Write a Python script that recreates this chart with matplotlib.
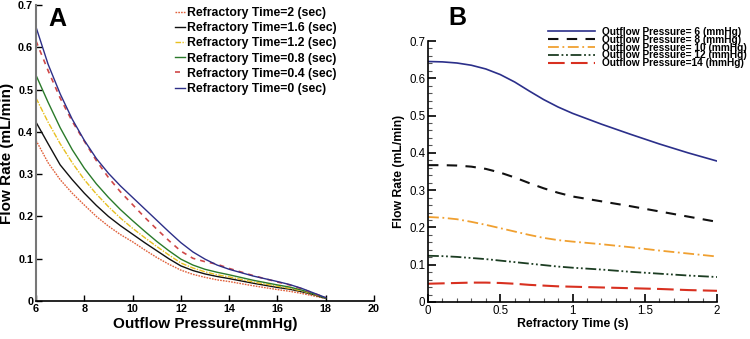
import matplotlib
matplotlib.use("Agg")
import matplotlib.pyplot as plt
from matplotlib.ticker import MultipleLocator

plt.rcParams['font.family'] = ['Liberation Sans', 'DejaVu Sans']

# ---------------- Panel A data ----------------
pressure = [6, 6.5, 7, 7.5, 8, 8.5, 9, 9.5, 10, 10.5, 11, 11.5, 12, 12.5, 13, 13.5, 14, 15, 16, 16.5, 17, 17.5, 18]
flow_t0  = [0.648, 0.560, 0.490, 0.430, 0.380, 0.337, 0.302, 0.272, 0.245, 0.218, 0.191, 0.164, 0.138, 0.116, 0.099, 0.085, 0.075, 0.059, 0.046, 0.039, 0.030, 0.019, 0.008]
flow_t04 = [0.615, 0.545, 0.480, 0.425, 0.378, 0.332, 0.292, 0.258, 0.228, 0.198, 0.170, 0.143, 0.118, 0.101, 0.093, 0.087, 0.077, 0.060, 0.045, 0.038, 0.029, 0.018, 0.008]
flow_t08 = [0.534, 0.470, 0.410, 0.358, 0.314, 0.277, 0.245, 0.216, 0.190, 0.165, 0.141, 0.119, 0.099, 0.085, 0.075, 0.068, 0.062, 0.049, 0.038, 0.033, 0.026, 0.017, 0.007]
flow_t12 = [0.480, 0.423, 0.372, 0.327, 0.287, 0.253, 0.223, 0.196, 0.172, 0.150, 0.129, 0.109, 0.090, 0.078, 0.069, 0.062, 0.057, 0.045, 0.035, 0.030, 0.024, 0.016, 0.007]
flow_t16 = [0.423, 0.372, 0.322, 0.287, 0.255, 0.226, 0.200, 0.178, 0.158, 0.138, 0.119, 0.100, 0.083, 0.072, 0.064, 0.058, 0.053, 0.042, 0.032, 0.028, 0.022, 0.015, 0.006]
flow_t2  = [0.380, 0.327, 0.287, 0.255, 0.227, 0.200, 0.177, 0.157, 0.140, 0.121, 0.103, 0.087, 0.073, 0.063, 0.056, 0.050, 0.046, 0.036, 0.027, 0.023, 0.018, 0.012, 0.006]
labels_a = ["Refractory Time=2 (sec)", "Refractory Time=1.6 (sec)", "Refractory Time=1.2 (sec)",
            "Refractory Time=0.8 (sec)", "Refractory Time=0.4 (sec)", "Refractory Time=0 (sec)"]
xticks_a = [6, 8, 10, 12, 14, 16, 18, 20]
yticks = [0, 0.1, 0.2, 0.3, 0.4, 0.5, 0.6, 0.7]
ytick_labels = ["0", "0.1", "0.2", "0.3", "0.4", "0.5", "0.6", "0.7"]

# ---------------- Panel B data ----------------
rtime    = [0, 0.1, 0.2, 0.3, 0.4, 0.5, 0.6, 0.7, 0.8, 0.9, 1.0, 1.2, 1.4, 1.6, 1.8, 2.0]
flow_p6  = [0.645, 0.644, 0.641, 0.635, 0.625, 0.610, 0.590, 0.566, 0.543, 0.523, 0.506, 0.477, 0.450, 0.424, 0.400, 0.378]
flow_p8  = [0.367, 0.367, 0.366, 0.363, 0.357, 0.347, 0.334, 0.319, 0.305, 0.293, 0.283, 0.270, 0.257, 0.243, 0.229, 0.215]
flow_p10 = [0.228, 0.226, 0.222, 0.215, 0.207, 0.198, 0.189, 0.180, 0.172, 0.166, 0.162, 0.155, 0.147, 0.138, 0.130, 0.122]
flow_p12 = [0.124, 0.123, 0.121, 0.118, 0.115, 0.111, 0.107, 0.103, 0.099, 0.095, 0.092, 0.087, 0.081, 0.076, 0.071, 0.067]
flow_p14 = [0.049, 0.050, 0.051, 0.052, 0.052, 0.051, 0.049, 0.046, 0.044, 0.042, 0.041, 0.039, 0.037, 0.035, 0.032, 0.030]
labels_b = ["Outflow Pressure= 6 (mmHg)", "Outflow Pressure= 8 (mmHg)", "Outflow Pressure= 10 (mmHg)",
            "Outflow Pressure= 12 (mmHg)", "Outflow Pressure=14 (mmHg)"]
xticks_b = [0, 0.5, 1, 1.5, 2]
xtick_labels_b = ["0", "0.5", "1", "1.5", "2"]

W, H = 750, 339
fig = plt.figure(figsize=(7.5, 3.39), dpi=100)

# ================= Panel A =================
axA = fig.add_axes([36 / W, 1 - 301 / H, (374 - 36) / W, (301 - 5) / H])
styleA = [
    (flow_t2,  dict(color="#e0603a", ls=(0, (1.2, 0.8)), lw=1.0)),
    (flow_t16, dict(color="#111111", ls="-", lw=1.0)),
    (flow_t12, dict(color="#e8c020", ls=(0, (4, 1, 1, 1)), lw=1.0)),
    (flow_t08, dict(color="#2a7a2a", ls="-", lw=1.0)),
    (flow_t04, dict(color="#d04848", ls=(0, (3, 3)), lw=1.2)),
    (flow_t0,  dict(color="#2d2f88", ls="-", lw=1.0)),
]
for (vals, st), lab in zip(styleA, labels_a):
    axA.plot(pressure, vals, label=lab, **st)
axA.set_xlim(6, 20)
axA.set_ylim(0, 0.7)
axA.set_xticks(xticks_a)
axA.set_xticklabels([str(v) for v in xticks_a])
axA.set_yticks(yticks)
axA.set_yticklabels(ytick_labels)
axA.tick_params(direction="in", length=4, width=1, labelsize=7.8, pad=2)
for t in axA.get_xticklabels() + axA.get_yticklabels():
    t.set_fontweight("bold")
axA.spines["top"].set_visible(False)
axA.spines["right"].set_visible(False)
axA.spines["left"].set_color("#777777")
axA.spines["left"].set_linewidth(1.5)
axA.spines["bottom"].set_linewidth(1.2)
axA.set_xlabel("Outflow Pressure(mmHg)", fontsize=11, fontweight="bold", labelpad=2)
axA.set_ylabel("Flow Rate (mL/min)", fontsize=11, fontweight="bold", labelpad=3)
fig.text(57 / W, 1 - 19 / H, "A", fontsize=18, fontweight="bold", ha="center", va="center")
legA = axA.legend(loc="upper left", bbox_to_anchor=(175 / W, 1 - 7 / H),
                  bbox_transform=fig.transFigure, frameon=False,
                  fontsize=8.8, handlelength=0.85, handletextpad=0.15, labelspacing=0.26,
                  borderaxespad=0, borderpad=0)
for t in legA.get_texts():
    t.set_fontweight("bold")

# ================= Panel B =================
axB = fig.add_axes([428 / W, 1 - 302 / H, (717 - 428) / W, (302 - 41) / H])
styleB = [
    (flow_p6,  dict(color="#2b2f8a", ls="-", lw=1.2)),
    (flow_p8,  dict(color="#111111", ls=(0, (5, 4)), lw=1.5)),
    (flow_p10, dict(color="#f0a030", ls=(0, (6, 2, 1, 2)), lw=1.3)),
    (flow_p12, dict(color="#1c3d22", ls=(0, (6, 1.5, 1, 1.5, 1, 1.5)), lw=1.3)),
    (flow_p14, dict(color="#d83020", ls=(0, (8, 3)), lw=1.5)),
]
for (vals, st), lab in zip(styleB, labels_b):
    axB.plot(rtime, vals, label=lab, **st)
axB.set_xlim(0, 2)
axB.set_ylim(0, 0.7)
axB.set_xticks(xticks_b)
axB.set_xticklabels(xtick_labels_b)
axB.set_yticks(yticks)
axB.set_yticklabels(ytick_labels)
axB.xaxis.set_minor_locator(MultipleLocator(0.1))
axB.yaxis.set_minor_locator(MultipleLocator(0.02))
axB.tick_params(which="major", direction="in", length=6, width=1.2, labelsize=8.3, pad=2)
axB.tick_params(which="minor", direction="in", length=3, width=0.8, color="#555555")
axB.spines["top"].set_visible(False)
axB.spines["right"].set_visible(False)
axB.spines["left"].set_linewidth(1.2)
axB.spines["bottom"].set_linewidth(1.2)
axB.set_xlabel("Refractory Time (s)", fontsize=8.8, fontweight="bold", labelpad=1)
axB.set_ylabel("Flow Rate (mL/min)", fontsize=8.8, fontweight="bold", labelpad=3)
fig.text(457 / W, 1 - 18 / H, "B", fontsize=18, fontweight="bold", ha="center", va="center")
legB = axB.legend(loc="upper left", bbox_to_anchor=(548 / W, 1 - 27 / H),
                  bbox_transform=fig.transFigure, frameon=False,
                  fontsize=7.3, handlelength=4.6, handletextpad=0.75, labelspacing=-0.22,
                  borderaxespad=0, borderpad=0)
for t in legB.get_texts():
    t.set_fontweight("bold")

fig.savefig("out.png", dpi=100)
